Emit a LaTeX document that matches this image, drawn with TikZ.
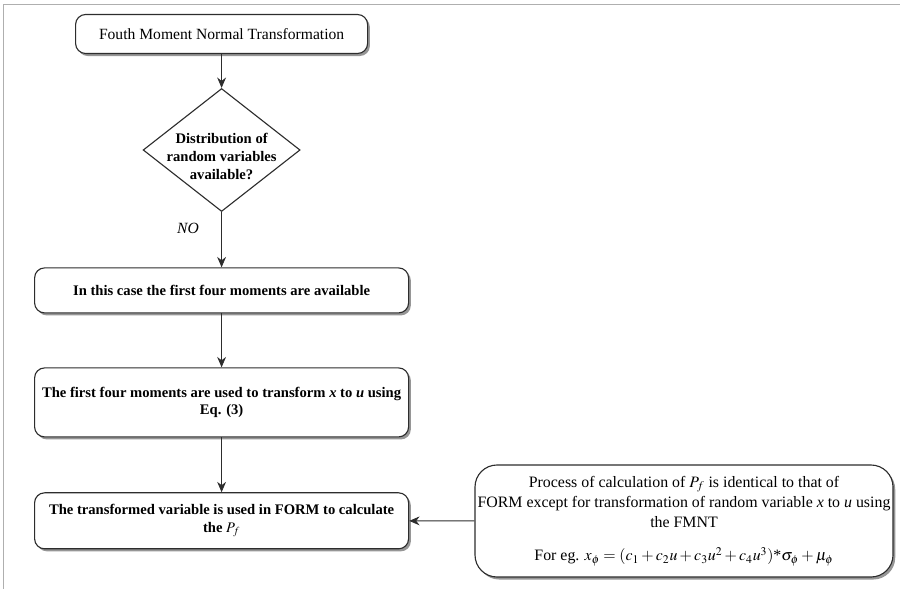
\documentclass[tikz,border=0pt]{standalone}
\usepackage{amsmath}
\usepackage{mathptmx}
\usepackage[no-math]{fontspec}
\setmainfont{Liberation Serif}
\usepackage{xcolor}
\definecolor{grismarco}{RGB}{175,175,175}
\definecolor{sombra}{RGB}{150,150,150}
\definecolor{borde}{RGB}{45,45,45}
\usetikzlibrary{shapes, arrows.meta, positioning, shadows}

\begin{document}
\begin{tikzpicture}[
    caja/.style={draw=borde, line width=0.8pt, rounded corners=0.25cm, fill=white, align=center, inner sep=2pt,
      font=\fontsize{11.1}{13.5}\selectfont,
      drop shadow={shadow xshift=1.6pt, shadow yshift=-1.8pt, fill=sombra, opacity=1}},
    cajanegrita/.style={caja, font=\fontsize{10.4}{12.6}\selectfont\bfseries},
    flecha/.style={-{Stealth[length=2.6mm, width=2.2mm]}, draw=borde, line width=0.6pt}
  ]
  \useasboundingbox (0,0) rectangle (22.5,-14.725);
  % Marco gris del borde
  \draw[grismarco, line width=0.5pt] (22.5,-0.1) -- (0.075,-0.1) -- (0.075,-14.725);

  % Cajas de la columna izquierda
  \node[caja, minimum width=7.3cm, minimum height=0.975cm] (fmnt) at (5.54,-0.85) {Fouth Moment Normal Transformation};
  \node[draw=borde, diamond, line width=0.8pt, minimum width=3.925cm, minimum height=3.075cm, inner sep=0pt] (dist) at (5.54,-3.75) {};
  \node[align=center, font=\fontsize{10.4}{12.8}\selectfont\bfseries] (disttexto) at (5.54,-3.9) {Distribution of\\random variables\\available?};
  \node[font=\fontsize{11.1}{13}\selectfont\itshape] (no) at (4.7,-5.7) {NO};
  \node[cajanegrita, minimum width=9.35cm, minimum height=1.125cm] (momentos) at (5.54,-7.26) {In this case the first four moments are available};
  \node[cajanegrita, minimum width=9.35cm, minimum height=1.725cm] (transforma) at (5.54,-10.06) {The first four moments are used to transform \textit{x} to \textit{u} using\\Eq. (3)};
  \node[cajanegrita, minimum width=9.35cm, minimum height=1.4cm] (form) at (5.54,-13.02) {The transformed variable is used in FORM to calculate\\the $P_f$};

  % Caja de la derecha
  \node[caja, rounded corners=0.55cm, minimum width=10.45cm, minimum height=2.8cm, inner sep=0pt,
    font=\fontsize{11.3}{14.5}\selectfont] (proceso) at (17.1,-13.025)
    {Process of calculation of $P_f$ is identical to that of\\
     FORM except for transformation of random variable \textit{x} to \textit{u} using\\
     the FMNT\\[9pt]
     For eg. $x_{\phi}=(c_1+c_2u+c_3u^2+c_4u^3)$*$\sigma_{\phi}+\mu_{\phi}$};

  % Flechas
  \draw[flecha] (fmnt) -- (dist);
  \draw[flecha] (dist) -- (momentos);
  \draw[flecha] (momentos) -- (transforma);
  \draw[flecha] (transforma) -- (form);
  \draw[flecha] (proceso) -- (form);
\end{tikzpicture}
\end{document}
